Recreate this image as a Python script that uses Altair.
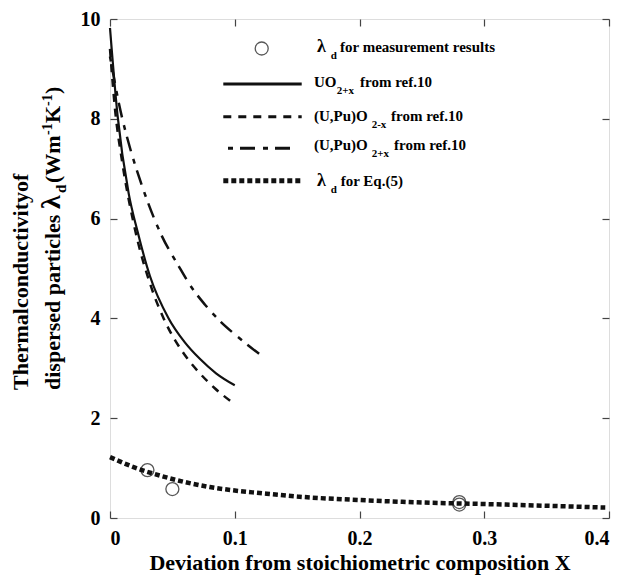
import altair as alt
import pandas as pd

# ---------------- data ----------------
X_UO2 = [0, 0.006, 0.015, 0.022, 0.032, 0.047, 0.06, 0.072, 0.085, 0.1]
Y_UO2 = [9.82, 8.08, 6.5, 5.75, 4.85, 4.0, 3.52, 3.19, 2.9, 2.66]

X_UPU_M = [0, 0.004, 0.01, 0.019, 0.033, 0.043, 0.061, 0.072, 0.084, 0.1]
Y_UPU_M = [9.4, 8.2, 7.1, 5.9, 4.63, 4.0, 3.23, 2.9, 2.6, 2.28]

X_UPU_P = [0, 0.0085, 0.016, 0.024, 0.041, 0.055, 0.066, 0.076, 0.088, 0.101, 0.12]
Y_UPU_P = [9.25, 8.15, 7.42, 6.78, 5.68, 5.05, 4.6, 4.28, 3.95, 3.66, 3.28]

X_EQ5 = [0, 0.02, 0.04, 0.06, 0.08, 0.1, 0.12, 0.15, 0.2, 0.25, 0.3, 0.35, 0.397]
Y_EQ5 = [1.22, 1.01, 0.85, 0.72, 0.62, 0.55, 0.50, 0.43, 0.36, 0.31, 0.28, 0.245, 0.21]

X_MEAS = [0.03, 0.05, 0.28, 0.28]
Y_MEAS = [0.96, 0.58, 0.32, 0.27]

X_TICKS = [0, 0.1, 0.2, 0.3, 0.4]
Y_TICKS = [0, 2, 4, 6, 8, 10]

X_TITLE = "Deviation from stoichiometric composition X"
Y_TITLE_1 = "Thermalconductivityof"
Y_TITLE_2 = ["dispersed particles", "λ", "d", "(Wm", "-1", "K", "-1", ")"]

LEG_MEAS = ["λ", "d", "for measurement results"]
LEG_UO2 = ["UO", "2+x", "from ref.10"]
LEG_UPU_M = ["(U,Pu)O", "2-x", "from ref.10"]
LEG_UPU_P = ["(U,Pu)O", "2+x", "from ref.10"]
LEG_EQ5 = ["λ", "d", "for Eq.(5)"]

# ---------------- styling ----------------
FONT = "Liberation Serif"
INK = "#111111"
FRAME = "#444444"

xs = alt.Scale(domain=[0, 0.4], nice=False, zero=False)
ys = alt.Scale(domain=[0, 10], nice=False)


def df(xv, yv):
    return pd.DataFrame({"x": xv, "y": yv})


def tick_axis(orient, values, fmt=None, title=None):
    kw = dict(
        orient=orient, values=values, domain=False, grid=False,
        tickSize={"expr": "-7"}, tickColor=FRAME, tickWidth=1.2,
        labels=fmt is not None,
    )
    if fmt is not None:
        kw.update(labelFont=FONT, labelFontWeight="bold", labelFontSize=20,
                  labelColor="black", labelPadding=17, format=fmt)
    if title:
        kw.update(title=title, titleFont=FONT, titleFontWeight="bold",
                  titleFontSize=22, titleColor="black", titlePadding=4)
    else:
        kw.update(title=None)
    return alt.Axis(**kw)


def curve(data, dash=None, width=2.2, xaxis=None, yaxis=None):
    mk = dict(color=INK, strokeWidth=width, interpolate="monotone", strokeCap="butt")
    if dash:
        mk["strokeDash"] = dash
    return alt.Chart(data).mark_line(**mk).encode(
        x=alt.X("x:Q", scale=xs, axis=xaxis),
        y=alt.Y("y:Q", scale=ys, axis=yaxis),
        order="x:Q",
    )


DASH = [8, 7]
DASHDOT = [5, 7, 15, 8]
SQUARES = [5, 3]

solid = curve(df(X_UO2, Y_UO2), None, 2.2,
              tick_axis("bottom", X_TICKS, ".1~f", X_TITLE),
              tick_axis("left", Y_TICKS, "d"))
dashed = curve(df(X_UPU_M, Y_UPU_M), DASH, 2.5,
               tick_axis("top", X_TICKS),
               tick_axis("right", Y_TICKS))
dashdot = curve(df(X_UPU_P, Y_UPU_P), DASHDOT, 2.5)
dotted = curve(df(X_EQ5, Y_EQ5), SQUARES, 4.5)

meas = alt.Chart(df(X_MEAS, Y_MEAS)).mark_point(
    shape="circle", filled=False, size=169, strokeWidth=1.3, color=INK
).encode(
    x=alt.X("x:Q", scale=xs, axis=None),
    y=alt.Y("y:Q", scale=ys, axis=None),
)


# ---------------- manual legend & rotated y title ----------------
def txt(s, x, y, size, dx=0, dy=0, angle=0):
    return alt.Chart(pd.DataFrame({"t": [s]})).mark_text(
        align="left", baseline="alphabetic", font=FONT, fontWeight="bold",
        fontSize=size, dx=dx, dy=dy, angle=angle, color="black"
    ).encode(x=alt.value(x), y=alt.value(y), text="t:N")


def sample(x1, x2, y, dash=None, width=2.5):
    mk = dict(color=INK, strokeWidth=width, strokeCap="butt")
    if dash:
        mk["strokeDash"] = dash
    return alt.Chart(pd.DataFrame({"k": [0]})).mark_rule(**mk).encode(
        x=alt.value(x1), x2=alt.value(x2), y=alt.value(y))


def row(parts, x, y, sub_dx, rest_dx, main_size=15, sub_dy=7):
    return [
        txt(parts[0], x, y, main_size),
        txt(parts[1], x + sub_dx, y + sub_dy, 11),
        txt(parts[2], x + rest_dx, y, 15),
    ]


legend = []
legend.append(alt.Chart(pd.DataFrame({"k": [0]})).mark_point(
    shape="circle", filled=False, size=169, strokeWidth=1.3, color=INK
).encode(x=alt.value(151.7), y=alt.value(29.5)))
legend += row(LEG_MEAS, 207, 33, 13.7, 23, main_size=18)
legend.append(sample(113.3, 191.7, 65, None, 3))
legend += row(LEG_UO2, 204, 68, 22.7, 46)
legend.append(sample(113.3, 191.7, 97.7, [8, 7], 3))
legend += row(LEG_UPU_M, 204, 102, 57.7, 77)
legend.append(sample(118, 181, 129.3, DASHDOT, 3))
legend += row(LEG_UPU_P, 204, 131, 57.7, 80)
legend.append(sample(113.3, 191.7, 161.7, SQUARES, 5))
legend += row(LEG_EQ5, 207, 167, 13.7, 23.7, main_size=18)

ytitle = [txt(Y_TITLE_1, -82, 371, 22, angle=270)]
offs = [0, 181, 197, 207, 255, 267, 284, 296]
sizes = [22, 28, 15, 22, 14, 22, 14, 22]
dys = [0, 0, 6, 0, -8, 0, -8, 0]
for s, o, z, d in zip(Y_TITLE_2, offs, sizes, dys):
    ytitle.append(txt(s, -50, 371, z, dx=o, dy=d, angle=270))

chart = alt.layer(
    solid, dashed, dashdot, dotted, meas, *legend, *ytitle
).resolve_axis(x="independent", y="independent").properties(
    width=499, height=499,
    padding={"left": 102, "top": 11, "right": 11, "bottom": 61},
    autosize=alt.AutoSizeParams(type="none"),
).configure_view(stroke=FRAME, strokeWidth=1.5).configure(background="white")

chart.save("out.html", embed_options={"renderer": "svg", "actions": False})
